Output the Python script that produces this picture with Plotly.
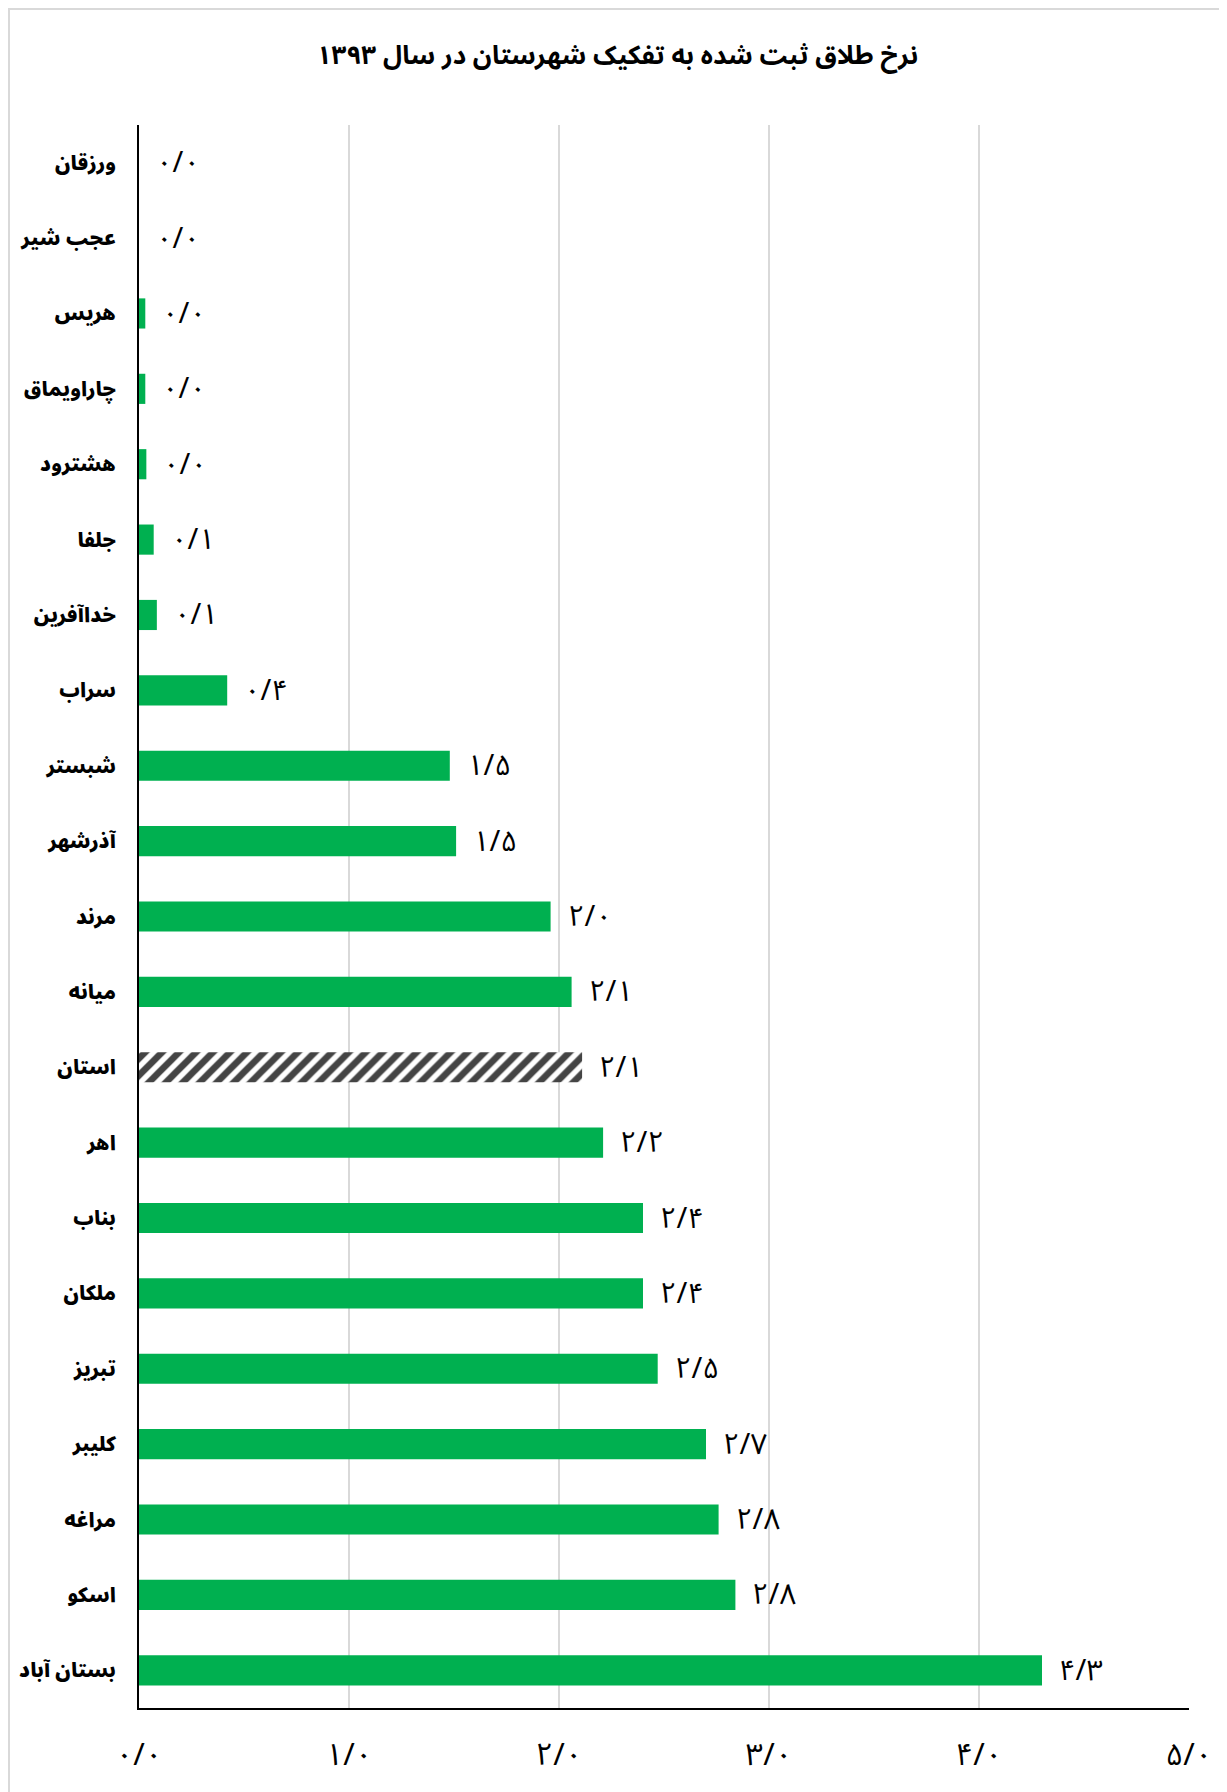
import plotly.graph_objects as go

title_text = "نرخ طلاق ثبت شده به تفکیک شهرستان در سال ۱۳۹۳"

categories = ["ورزقان", "عجب شیر", "هریس", "چاراویماق", "هشترود", "جلفا", "خداآفرین",
              "سراب", "شبستر", "آذرشهر", "مرند", "میانه", "استان", "اهر", "بناب",
              "ملکان", "تبریز", "کلیبر", "مراغه", "اسکو", "بستان آباد"]
values = [0.0, 0.0, 0.03, 0.03, 0.035, 0.07, 0.085, 0.42, 1.48, 1.51, 1.96, 2.06,
          2.11, 2.21, 2.40, 2.40, 2.47, 2.70, 2.76, 2.84, 4.30]
label_text = ["۰/۰", "۰/۰", "۰/۰", "۰/۰", "۰/۰", "۰/۱", "۰/۱", "۰/۴", "۱/۵", "۱/۵",
              "۲/۰", "۲/۱", "۲/۱", "۲/۲", "۲/۴", "۲/۴", "۲/۵", "۲/۷", "۲/۸", "۲/۸", "۴/۳"]
province = "استان"

x_tickvals = [0, 1, 2, 3, 4, 5]
x_ticktext = ["۰/۰", "۱/۰", "۲/۰", "۳/۰", "۴/۰", "۵/۰"]

GREEN = "#00B050"
FONT = "Noto Sans Arabic, Noto Naskh Arabic, DejaVu Sans, sans-serif"

W, H = 1219, 1784
ML, MR, MT, MB = 131, 38, 117, 84

colors = ["white" if c == province else GREEN for c in categories]
shapes_pat = ["/" if c == province else "" for c in categories]

fig = go.Figure()
fig.add_trace(go.Bar(
    x=values, y=categories, orientation="h",
    marker=dict(color=colors, line=dict(width=0),
                pattern=dict(shape=shapes_pat, fgcolor="black", bgcolor="white",
                             fgopacity=1, size=12, solidity=0.55)),
    width=0.4, hoverinfo="x+y",
))

annotations = []
for c, v, t in zip(categories, values, label_text):
    annotations.append(dict(x=v, y=c, xref="x", yref="y", text=t, showarrow=False,
                            xanchor="left", yanchor="middle", xshift=15,
                            font=dict(family=FONT, size=29, color="black")))

pw, ph = W - ML - MR, H - MT - MB
fig.update_layout(
    width=W, height=H,
    paper_bgcolor="white", plot_bgcolor="white",
    margin=dict(l=ML, r=MR, t=MT, b=MB, autoexpand=False),
    title=dict(text="<b>" + title_text + "</b>", x=0.5, xanchor="center",
               y=1 - 47 / H, yanchor="middle", automargin=False,
               font=dict(family=FONT, size=26, color="black", weight=900)),
    showlegend=False,
    annotations=annotations,
    shapes=[dict(type="rect", xref="paper", yref="paper",
                 x0=(1 - ML) / pw, x1=(W + 20 - ML) / pw,
                 y0=-(MB + 20) / ph, y1=(ph + MT - 1) / ph,
                 line=dict(color="#d9d9d9", width=2), fillcolor="rgba(0,0,0,0)",
                 layer="below")],
)

fig.update_xaxes(range=[0, 5], tickvals=x_tickvals, ticktext=x_ticktext,
                 showgrid=True, gridcolor="#d9d9d9", gridwidth=1.5,
                 showline=True, linecolor="black", linewidth=2,
                 zeroline=False, ticks="", ticklabelstandoff=18, automargin=False,
                 tickfont=dict(family=FONT, size=31, color="black"))
fig.update_yaxes(autorange="reversed", showgrid=False,
                 showline=True, linecolor="black", linewidth=2,
                 zeroline=False, ticks="", ticklabelstandoff=17, automargin=False,
                 tickfont=dict(family=FONT, size=20, color="black", weight=900))

fig.write_html("out.html")
